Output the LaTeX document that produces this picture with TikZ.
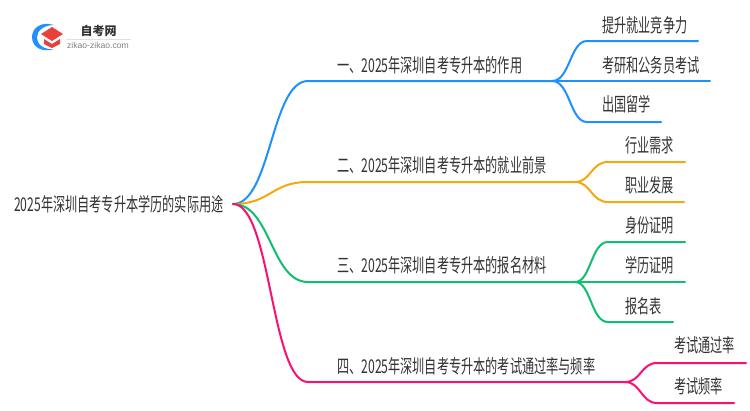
\documentclass[tikz,border=0pt]{standalone}
\usepackage{fontspec}
\setmainfont{Noto Sans CJK SC}[FakeStretch=0.64]
\newfontfamily\logocjk{Noto Sans CJK SC}
\newfontfamily\logofont{Liberation Sans}
\definecolor{lineblue}{HTML}{1E90FF}
\definecolor{lineorange}{HTML}{F5A70F}
\definecolor{linegreen}{HTML}{0FBF6F}
\definecolor{linepink}{HTML}{FB0F70}
\definecolor{textgrey}{HTML}{333333}
\definecolor{logored}{HTML}{E8403A}
\tikzset{
  x=1pt, y=-1pt,
  topic/.style={inner sep=0pt, anchor=west, text=textgrey, font=\fontsize{19}{21}\selectfont},
  branch/.style={line width=2pt, line cap=round},
}
\begin{document}
\begin{tikzpicture}
\useasboundingbox (0,0) rectangle (750,410);
% logo
\fill[lineblue] (54,25) .. controls (41,21) and (32,28) .. (32,37) .. controls (32,47) and (42,53) .. (54,49) .. controls (44,50) and (37,45) .. (37,37) .. controls (37,30) and (45,25) .. (54,25) -- cycle;
\fill[logored] (41,34) -- (52,27) -- (63,34) -- (52,41) -- cycle;
\fill[logored] (44,39) -- (52,44) -- (60,39) -- (60,44) -- (52,48) -- (44,44) -- cycle;
\node[inner sep=0pt, text=textgrey, font=\fontsize{12}{14}\logocjk\bfseries\selectfont] (logotitle) at (98.5,31) {自考网};
\draw[black!12, line width=0.6pt] (66,39) -- (131,39);
\node[inner sep=0pt, text=black!50, font=\fontsize{8.6}{10}\logofont\selectfont] (logourl) at (98,45) {zikao-zikao.com};

% text
\node[topic] (root) at (14,204) {2025年深圳自考专升本学历的实际用途};
\node[topic] (ta) at (337,65) {一、2025年深圳自考专升本的作用};
\node[topic] (taa) at (602,25) {提升就业竞争力};
\node[topic] (tab) at (602,65) {考研和公务员考试};
\node[topic] (tac) at (602,104) {出国留学};
\node[topic] (tb) at (337,165) {二、2025年深圳自考专升本的就业前景};
\node[topic] (tba) at (625,145) {行业需求};
\node[topic] (tbb) at (625,185) {职业发展};
\node[topic] (tc) at (337,265) {三、2025年深圳自考专升本的报名材料};
\node[topic] (tca) at (625,225) {身份证明};
\node[topic] (tcb) at (625,265) {学历证明};
\node[topic] (tcc) at (625,306) {报名表};
\node[topic] (td) at (337,366) {四、2025年深圳自考专升本的考试通过率与频率};
\node[topic] (tda) at (674,345) {考试通过率};
\node[topic] (tdb) at (674,386) {考试频率};

% hubs and ends
\coordinate (start) at (233,204);
\coordinate (hubA) at (552,81);
\coordinate (hubB) at (575,182);
\coordinate (hubC) at (575,282);
\coordinate (hubD) at (625,382);
\coordinate (endaa) at (698,41);
\coordinate (endab) at (710,81);
\coordinate (endac) at (661,122);
\coordinate (endba) at (685,162);
\coordinate (endbb) at (684,202);
\coordinate (endca) at (685,242);
\coordinate (endcb) at (685,282);
\coordinate (endcc) at (673,322);
\coordinate (endda) at (746,363);
\coordinate (enddb) at (734,403);

% connectors
\draw[branch, lineblue] (start) .. controls (271,204) and (271,81) .. (308,81) -- (hubA);
\draw[branch, lineblue] (hubA) .. controls (570,81) and (570,41) .. (587,41) -- (endaa);
\draw[branch, lineblue] (hubA) -- (endab);
\draw[branch, lineblue] (hubA) .. controls (570,81) and (570,122) .. (587,122) -- (endac);
\draw[branch, lineorange] (start) .. controls (271,204) and (271,182) .. (308,182) -- (hubB);
\draw[branch, lineorange] (hubB) .. controls (591,182) and (591,162) .. (608,162) -- (endba);
\draw[branch, lineorange] (hubB) .. controls (591,182) and (591,202) .. (608,202) -- (endbb);
\draw[branch, linegreen] (start) .. controls (271,204) and (271,282) .. (308,282) -- (hubC);
\draw[branch, linegreen] (hubC) .. controls (591,282) and (591,242) .. (608,242) -- (endca);
\draw[branch, linegreen] (hubC) -- (endcb);
\draw[branch, linegreen] (hubC) .. controls (591,282) and (591,322) .. (608,322) -- (endcc);
\draw[branch, linepink] (start) .. controls (271,204) and (271,382) .. (308,382) -- (hubD);
\draw[branch, linepink] (hubD) .. controls (641,382) and (641,363) .. (657,363) -- (endda);
\draw[branch, linepink] (hubD) .. controls (641,382) and (641,403) .. (657,403) -- (enddb);
\end{tikzpicture}
\end{document}
